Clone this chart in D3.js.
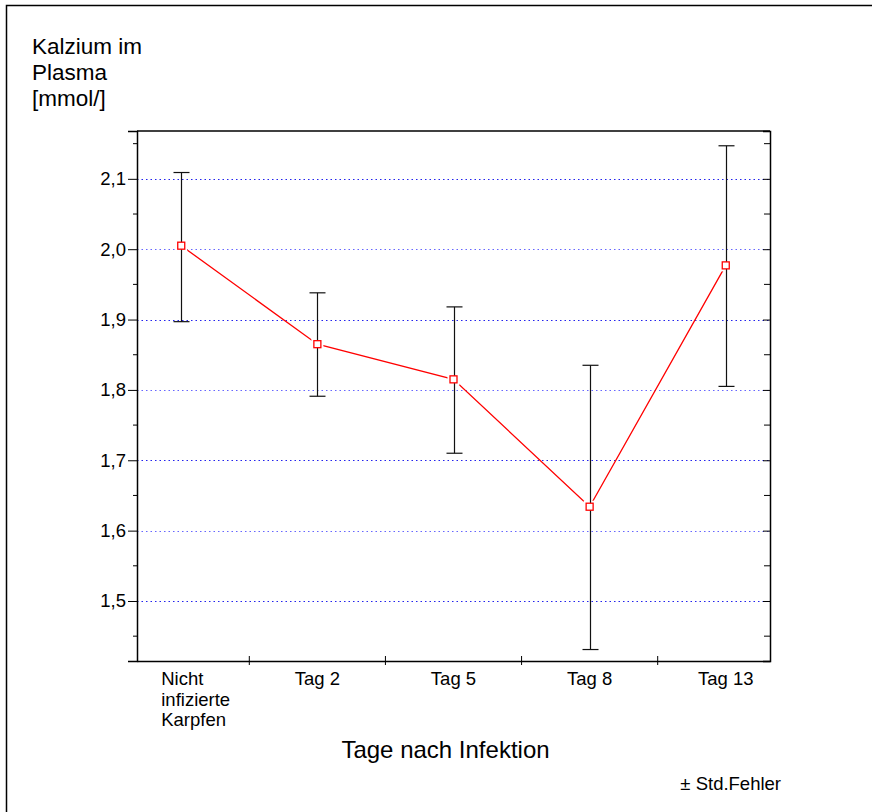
<!DOCTYPE html>
<html>
<head>
<meta charset="utf-8">
<script src="https://cdn.jsdelivr.net/npm/d3@7"></script>
<style>
  html, body { margin: 0; padding: 0; background: #fff; }
  svg { display: block; }
  text { font-family: "Liberation Sans", Arial, sans-serif; fill: #000; }
</style>
</head>
<body>
<svg id="chart" width="881" height="812"></svg>
<script>
// Calcium in plasma of carp, mean ± standard error per sampling day
const categories = ["Nicht infizierte Karpfen", "Tag 2", "Tag 5", "Tag 8", "Tag 13"];
const means      = [2.005, 1.865, 1.815, 1.634, 1.977];
const upper      = [2.109, 1.938, 1.918, 1.835, 2.147];
const lower      = [1.897, 1.791, 1.710, 1.431, 1.805];
const yTicks     = [1.5, 1.6, 1.7, 1.8, 1.9, 2.0, 2.1];
const yMinor     = [1.45, 1.55, 1.65, 1.75, 1.85, 1.95, 2.05, 2.15];

const svg = d3.select("#chart");
const plotLeft = 137, plotRight = 770, plotTop = 131, plotBottom = 661;

const y = d3.scaleLinear().domain([1.4147, 2.168]).range([plotBottom, plotTop]);
const x = d3.scalePoint().domain(categories).range([plotLeft, plotRight]).padding(0.325);
const fmt = d => d.toFixed(1).replace(".", ",");

// outer frame (top and left edges)
svg.append("path").attr("d", "M6.5,813 V5.5 H872")
  .attr("fill", "none").attr("stroke", "#000").attr("stroke-width", 1.5);

// horizontal grid lines
svg.append("g").selectAll("line").data(yTicks).join("line")
  .attr("x1", plotLeft).attr("x2", plotRight)
  .attr("y1", d => Math.round(y(d)) + 0.5).attr("y2", d => Math.round(y(d)) + 0.5)
  .attr("stroke", (d, i) => i % 2 === 1 ? "#6666ff" : "#2222ee")
  .attr("stroke-width", 1.1)
  .attr("stroke-dasharray", "1.5,3");

// left axis
const yAxisL = svg.append("g").attr("transform", `translate(${plotLeft},0)`)
  .call(d3.axisLeft(y).tickValues(yTicks).tickFormat(fmt).tickSize(9).tickPadding(2));
yAxisL.append("g").selectAll("line").data(yMinor).join("line")
  .attr("x1", -4).attr("x2", 0)
  .attr("y1", d => y(d)).attr("y2", d => y(d)).attr("stroke", "#000");

// right axis, ticks pointing inward
const yAxisR = svg.append("g").attr("transform", `translate(${plotRight},0)`)
  .call(d3.axisLeft(y).tickValues(yTicks).tickFormat("").tickSize(7));
yAxisR.append("g").selectAll("line").data(yMinor).join("line")
  .attr("x1", -6).attr("x2", 0)
  .attr("y1", d => y(d)).attr("y2", d => y(d)).attr("stroke", "#000");

// top border
svg.append("line").attr("x1", plotLeft).attr("x2", plotRight)
  .attr("y1", plotTop).attr("y2", plotTop).attr("stroke", "#000").attr("stroke-width", 1.5);

// bottom axis with separators between categories
const xAxis = svg.append("g").attr("transform", `translate(0,${plotBottom})`)
  .call(d3.axisBottom(x).tickSize(0).tickFormat(""));
const step = x.step();
xAxis.append("g").selectAll("line").data(categories.slice(1)).join("line")
  .attr("x1", d => x(d) - step / 2).attr("x2", d => x(d) - step / 2)
  .attr("y1", -5).attr("y2", 4).attr("stroke", "#000");

[yAxisL, yAxisR, xAxis].forEach(g => {
  g.select(".domain").attr("stroke", "#000").attr("stroke-width", 1.5);
  g.selectAll(".tick line").attr("stroke", "#000");
});
yAxisL.selectAll(".tick text").attr("font-size", 18.5)
  .style("font-family", "'Liberation Sans', Arial, sans-serif");

// category labels (wrapped)
const labelLines = categories.map(c => c === "Nicht infizierte Karpfen" ? ["Nicht", "infizierte", "Karpfen"] : [c]);
svg.append("g").selectAll("text").data(categories).join("text")
  .attr("font-size", 18.5)
  .attr("x", d => x(d))
  .attr("y", 685)
  .attr("text-anchor", (d, i) => i === 0 ? "start" : "middle")
  .each(function (d, i) {
    const t = d3.select(this);
    labelLines[i].forEach((ln, j) => {
      t.append("tspan").attr("x", i === 0 ? x(d) - 20 : x(d)).attr("dy", j === 0 ? 0 : 20.5).text(ln);
    });
  });

// mean line
const line = d3.line().x((d, i) => x(categories[i])).y(d => y(d));
svg.append("path").datum(means).attr("d", line)
  .attr("fill", "none").attr("stroke", "#ff0000").attr("stroke-width", 1.3);

// white halo around the markers
svg.append("g").selectAll("rect").data(means).join("rect")
  .attr("x", (d, i) => x(categories[i]) - 6).attr("y", d => y(d) - 6)
  .attr("width", 12).attr("height", 12).attr("fill", "#fff");

// error bars
const eb = svg.append("g").attr("stroke", "#111").attr("stroke-width", 1.2);
categories.forEach((c, i) => {
  const cx = Math.round(x(c)) + 0.5;
  eb.append("line").attr("x1", cx).attr("x2", cx).attr("y1", y(upper[i])).attr("y2", y(lower[i]));
  eb.append("line").attr("x1", cx - 8).attr("x2", cx + 8).attr("y1", y(upper[i])).attr("y2", y(upper[i]));
  eb.append("line").attr("x1", cx - 8).attr("x2", cx + 8).attr("y1", y(lower[i])).attr("y2", y(lower[i]));
});

// markers
svg.append("g").selectAll("rect").data(means).join("rect")
  .attr("x", (d, i) => x(categories[i]) - 3.5).attr("y", d => y(d) - 3.5)
  .attr("width", 7).attr("height", 7)
  .attr("fill", "#fff").attr("stroke", "#ff0000").attr("stroke-width", 1.3);

// y title
const yt = svg.append("text").attr("font-size", 22.5).attr("x", 32).attr("y", 53.5);
["Kalzium im", "Plasma", "[mmol/]"].forEach((ln, j) =>
  yt.append("tspan").attr("x", 32).attr("dy", j === 0 ? 0 : 26).text(ln));

// x title
svg.append("text").attr("font-size", 24).attr("x", 445.5).attr("y", 758)
  .attr("text-anchor", "middle").text("Tage nach Infektion");

// note
svg.append("text").attr("font-size", 18.5).attr("x", 781).attr("y", 790)
  .attr("text-anchor", "end").text("± Std.Fehler");
</script>
</body>
</html>
